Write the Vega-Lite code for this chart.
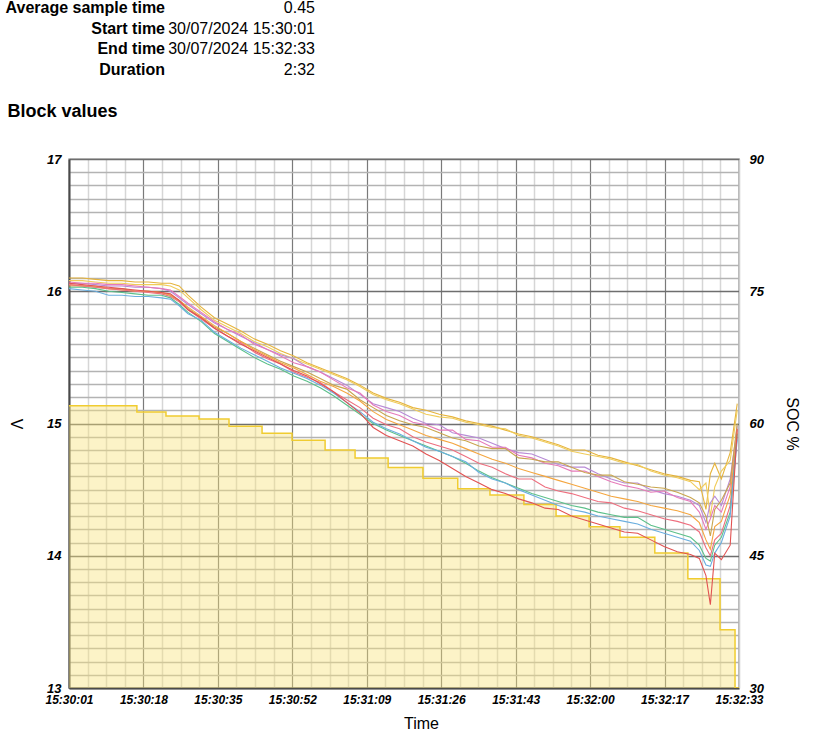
{
  "$schema": "https://vega.github.io/schema/vega-lite/v6.json",
  "padding": {"left": 5, "top": 0, "right": 5, "bottom": 5},
  "background": "white",
  "config": {
    "font": "Liberation Sans",
    "view": {"stroke": "#b0b0b0", "strokeWidth": 1.5}
  },
  "columns": 1,
  "align": "none",
  "spacing": 19,
  "concat": [
    {
      "width": 310,
      "height": 82,
      "view": {"stroke": null},
      "data": {"values": [
        {"r": 0, "k": "Average sample time", "v": "0.45"},
        {"r": 1, "k": "Start time", "v": "30/07/2024 15:30:01"},
        {"r": 2, "k": "End time", "v": "30/07/2024 15:32:33"},
        {"r": 3, "k": "Duration", "v": "2:32"}
      ]},
      "layer": [
        {"mark": {"type": "text", "align": "right", "baseline": "middle", "fontWeight": "bold", "fontSize": 16, "x": 96, "dy": -3, "color": "black"},
         "encoding": {"y": {"field": "r", "type": "ordinal", "axis": null}, "text": {"field": "k"}}},
        {"mark": {"type": "text", "align": "right", "baseline": "middle", "fontSize": 16, "x": 246, "dy": -3, "color": "black"},
         "encoding": {"y": {"field": "r", "type": "ordinal", "axis": null}, "text": {"field": "v"}}}
      ]
    },
    {
      "width": 670,
      "height": 529,
      "title": {"text": "Block values", "anchor": "start", "frame": "bounds", "fontSize": 18, "fontWeight": "bold", "offset": 32, "color": "black"},
      "layer": [
        {
          "data": {"values": [
            {"t": 0, "soc": 62.0}, {"t": 15.4, "soc": 61.3}, {"t": 22.0, "soc": 60.85}, {"t": 29.5, "soc": 60.5},
            {"t": 36.3, "soc": 59.7}, {"t": 43.8, "soc": 58.9}, {"t": 50.6, "soc": 58.1}, {"t": 58.1, "soc": 57.0},
            {"t": 64.9, "soc": 56.1}, {"t": 72.4, "soc": 55.0}, {"t": 80.3, "soc": 53.8}, {"t": 88.2, "soc": 52.6},
            {"t": 95.5, "soc": 51.9}, {"t": 103.2, "soc": 50.8}, {"t": 110.5, "soc": 49.5}, {"t": 118.0, "soc": 48.3},
            {"t": 125.0, "soc": 47.1}, {"t": 132.9, "soc": 45.3}, {"t": 140.4, "soc": 42.4}, {"t": 147.7, "soc": 36.6},
            {"t": 151.1, "soc": 30}, {"t": 152, "soc": 30}
          ]},
          "mark": {"type": "area", "interpolate": "step-after", "fill": "#f9e27a", "fillOpacity": 0.42, "clip": true, "line": {"color": "#f0cc30", "strokeWidth": 1.5}},
          "encoding": {
            "x": {"field": "t", "type": "quantitative", "title": null,
              "scale": {"domain": [0, 152], "nice": false, "zero": false},
              "axis": {
                "orient": "top",
                "values": [4.222, 8.444, 12.666, 21.11, 25.332, 29.554, 37.998, 42.22, 46.442, 54.886, 59.108, 63.33, 71.774, 75.996, 80.218, 88.662, 92.884, 97.106, 105.55, 109.772, 113.994, 122.438, 126.66, 130.882, 139.326, 143.548, 147.77],
                "grid": true, "gridColor": "#d6d6d6", "gridWidth": 1.5,
                "labels": false, "ticks": false, "domain": false, "title": null
              }
            },
            "y": {"field": "soc", "type": "quantitative",
              "scale": {"domain": [30, 90], "nice": false, "zero": false},
              "axis": {
                "orient": "right",
                "values": [30, 31.5, 33, 34.5, 36, 37.5, 39, 40.5, 42, 43.5, 45, 46.5, 48, 49.5, 51, 52.5, 54, 55.5, 57, 58.5, 60, 61.5, 63, 64.5, 66, 67.5, 69, 70.5, 72, 73.5, 75, 76.5, 78, 79.5, 81, 82.5, 84, 85.5, 87, 88.5, 90],
                "labelExpr": "datum.value % 15 == 0 ? datum.label : ''",
                "grid": true,
                "gridColor": {"condition": {"test": "datum.value % 15 == 0", "value": "#6e6e6e"}, "value": "#b3b3b3"},
                "gridWidth": 1.3,
                "ticks": false,
                "domain": true, "domainColor": "#cccccc", "domainWidth": 1,
                "labelFont": "Liberation Sans", "labelFontSize": 13, "labelFontWeight": "bold", "labelFontStyle": "italic", "labelColor": "black",
                "labelPadding": 10, "labelFlush": false, "labelOverlap": false,
                "title": "SOC %", "titleFont": "Liberation Sans", "titleFontSize": 16, "titleFontWeight": "normal", "titleColor": "black",
                "titleAngle": 90, "titlePadding": 20
              }
            },
            "y2": {"datum": 30}
          }
        },
        {
          "data": {"values": [
            {"t": 0, "a": 16.10, "b": 16.08, "c": 16.06, "d": 16.07, "e": 16.04, "f": 16.05, "g": 16.05, "h": 16.03, "i": 16.02, "j": 16.06},
            {"t": 3, "a": 16.10, "b": 16.08, "c": 16.06, "d": 16.06, "e": 16.04, "f": 16.04, "g": 16.04, "h": 16.03, "i": 16.01, "j": 16.05},
            {"t": 6, "a": 16.09, "b": 16.07, "c": 16.05, "d": 16.06, "e": 16.03, "f": 16.04, "g": 16.03, "h": 16.02, "i": 16.00, "j": 16.04},
            {"t": 9, "a": 16.08, "b": 16.06, "c": 16.04, "d": 16.05, "e": 16.02, "f": 16.02, "g": 16.02, "h": 16.00, "i": 15.97, "j": 16.03},
            {"t": 12, "a": 16.08, "b": 16.06, "c": 16.04, "d": 16.05, "e": 16.02, "f": 16.01, "g": 16.01, "h": 15.99, "i": 15.97, "j": 16.02},
            {"t": 15, "a": 16.07, "b": 16.05, "c": 16.03, "d": 16.04, "e": 16.00, "f": 16.00, "g": 16.00, "h": 15.98, "i": 15.96, "j": 16.01},
            {"t": 18, "a": 16.07, "b": 16.05, "c": 16.03, "d": 16.03, "e": 16.00, "f": 16.00, "g": 15.99, "h": 15.97, "i": 15.96, "j": 16.00},
            {"t": 21, "a": 16.06, "b": 16.05, "c": 16.02, "d": 16.02, "e": 15.99, "f": 15.99, "g": 15.98, "h": 15.97, "i": 15.95, "j": 15.99},
            {"t": 23, "a": 16.06, "b": 16.04, "c": 16.00, "d": 16.01, "e": 15.97, "f": 15.97, "g": 15.96, "h": 15.95, "i": 15.94, "j": 15.98},
            {"t": 25, "a": 16.04, "b": 16.01, "c": 15.95, "d": 15.96, "e": 15.93, "f": 15.93, "g": 15.92, "h": 15.90, "i": 15.89, "j": 15.93},
            {"t": 27, "a": 15.97, "b": 15.95, "c": 15.90, "d": 15.91, "e": 15.87, "f": 15.88, "g": 15.86, "h": 15.84, "i": 15.83, "j": 15.86},
            {"t": 30, "a": 15.88, "b": 15.86, "c": 15.83, "d": 15.84, "e": 15.80, "f": 15.81, "g": 15.79, "h": 15.77, "i": 15.78, "j": 15.80},
            {"t": 33, "a": 15.80, "b": 15.78, "c": 15.76, "d": 15.77, "e": 15.73, "f": 15.74, "g": 15.72, "h": 15.68, "i": 15.69, "j": 15.72},
            {"t": 36, "a": 15.75, "b": 15.73, "c": 15.71, "d": 15.71, "e": 15.68, "f": 15.68, "g": 15.66, "h": 15.62, "i": 15.63, "j": 15.66},
            {"t": 39, "a": 15.70, "b": 15.68, "c": 15.66, "d": 15.67, "e": 15.62, "f": 15.62, "g": 15.61, "h": 15.56, "i": 15.57, "j": 15.60},
            {"t": 42, "a": 15.64, "b": 15.62, "c": 15.61, "d": 15.60, "e": 15.57, "f": 15.56, "g": 15.54, "h": 15.50, "i": 15.52, "j": 15.55},
            {"t": 45, "a": 15.60, "b": 15.58, "c": 15.56, "d": 15.56, "e": 15.52, "f": 15.51, "g": 15.49, "h": 15.45, "i": 15.47, "j": 15.50},
            {"t": 48, "a": 15.55, "b": 15.53, "c": 15.52, "d": 15.51, "e": 15.47, "f": 15.46, "g": 15.45, "h": 15.41, "i": 15.42, "j": 15.45},
            {"t": 51, "a": 15.51, "b": 15.49, "c": 15.49, "d": 15.46, "e": 15.43, "f": 15.42, "g": 15.39, "h": 15.36, "i": 15.38, "j": 15.40},
            {"t": 54, "a": 15.46, "b": 15.45, "c": 15.43, "d": 15.43, "e": 15.39, "f": 15.37, "g": 15.35, "h": 15.32, "i": 15.34, "j": 15.36},
            {"t": 57, "a": 15.42, "b": 15.41, "c": 15.39, "d": 15.39, "e": 15.34, "f": 15.32, "g": 15.31, "h": 15.27, "i": 15.29, "j": 15.30},
            {"t": 60, "a": 15.38, "b": 15.37, "c": 15.34, "d": 15.33, "e": 15.29, "f": 15.28, "g": 15.24, "h": 15.21, "i": 15.23, "j": 15.24},
            {"t": 63, "a": 15.34, "b": 15.33, "c": 15.29, "d": 15.27, "e": 15.26, "f": 15.23, "g": 15.18, "h": 15.14, "i": 15.16, "j": 15.16},
            {"t": 66, "a": 15.29, "b": 15.28, "c": 15.22, "d": 15.23, "e": 15.18, "f": 15.17, "g": 15.12, "h": 15.07, "i": 15.09, "j": 15.08},
            {"t": 69, "a": 15.23, "b": 15.22, "c": 15.15, "d": 15.14, "e": 15.12, "f": 15.09, "g": 15.04, "h": 15.00, "i": 15.01, "j": 14.97},
            {"t": 72, "a": 15.19, "b": 15.18, "c": 15.12, "d": 15.09, "e": 15.06, "f": 15.03, "g": 14.99, "h": 14.95, "i": 14.96, "j": 14.91},
            {"t": 75, "a": 15.16, "b": 15.15, "c": 15.09, "d": 15.06, "e": 15.02, "f": 14.99, "g": 14.96, "h": 14.91, "i": 14.92, "j": 14.87},
            {"t": 78, "a": 15.12, "b": 15.11, "c": 15.04, "d": 15.01, "e": 14.99, "f": 14.95, "g": 14.90, "h": 14.87, "i": 14.87, "j": 14.83},
            {"t": 81, "a": 15.10, "b": 15.07, "c": 15.00, "d": 14.99, "e": 14.97, "f": 14.91, "g": 14.86, "h": 14.83, "i": 14.82, "j": 14.77},
            {"t": 84, "a": 15.07, "b": 15.05, "c": 14.99, "d": 14.95, "e": 14.93, "f": 14.88, "g": 14.83, "h": 14.79, "i": 14.79, "j": 14.72},
            {"t": 87, "a": 15.05, "b": 15.04, "c": 14.93, "d": 14.95, "e": 14.89, "f": 14.85, "g": 14.80, "h": 14.75, "i": 14.75, "j": 14.66},
            {"t": 90, "a": 15.02, "b": 15.01, "c": 14.91, "d": 14.88, "e": 14.87, "f": 14.81, "g": 14.75, "h": 14.70, "i": 14.71, "j": 14.60},
            {"t": 93, "a": 15.00, "b": 14.99, "c": 14.89, "d": 14.87, "e": 14.83, "f": 14.77, "g": 14.70, "h": 14.64, "i": 14.63, "j": 14.55},
            {"t": 96, "a": 14.98, "b": 14.97, "c": 14.85, "d": 14.82, "e": 14.81, "f": 14.73, "g": 14.67, "h": 14.59, "i": 14.58, "j": 14.50},
            {"t": 99, "a": 14.95, "b": 14.96, "c": 14.81, "d": 14.82, "e": 14.81, "f": 14.70, "g": 14.62, "h": 14.55, "i": 14.55, "j": 14.47},
            {"t": 102, "a": 14.92, "b": 14.91, "c": 14.78, "d": 14.76, "e": 14.74, "f": 14.66, "g": 14.58, "h": 14.51, "i": 14.50, "j": 14.43},
            {"t": 105, "a": 14.90, "b": 14.89, "c": 14.77, "d": 14.74, "e": 14.73, "f": 14.63, "g": 14.58, "h": 14.47, "i": 14.46, "j": 14.40},
            {"t": 108, "a": 14.87, "b": 14.86, "c": 14.73, "d": 14.70, "e": 14.71, "f": 14.60, "g": 14.52, "h": 14.44, "i": 14.42, "j": 14.36},
            {"t": 111, "a": 14.84, "b": 14.83, "c": 14.69, "d": 14.68, "e": 14.71, "f": 14.57, "g": 14.49, "h": 14.41, "i": 14.38, "j": 14.35},
            {"t": 114, "a": 14.80, "b": 14.79, "c": 14.67, "d": 14.64, "e": 14.67, "f": 14.54, "g": 14.47, "h": 14.38, "i": 14.35, "j": 14.30},
            {"t": 117, "a": 14.80, "b": 14.77, "c": 14.67, "d": 14.64, "e": 14.63, "f": 14.51, "g": 14.44, "h": 14.36, "i": 14.33, "j": 14.27},
            {"t": 120, "a": 14.76, "b": 14.75, "c": 14.62, "d": 14.60, "e": 14.61, "f": 14.48, "g": 14.41, "h": 14.33, "i": 14.30, "j": 14.24},
            {"t": 123, "a": 14.74, "b": 14.73, "c": 14.58, "d": 14.56, "e": 14.61, "f": 14.45, "g": 14.40, "h": 14.31, "i": 14.28, "j": 14.21},
            {"t": 126, "a": 14.71, "b": 14.70, "c": 14.55, "d": 14.53, "e": 14.56, "f": 14.43, "g": 14.36, "h": 14.29, "i": 14.26, "j": 14.18},
            {"t": 129, "a": 14.68, "b": 14.69, "c": 14.55, "d": 14.51, "e": 14.54, "f": 14.41, "g": 14.34, "h": 14.29, "i": 14.24, "j": 14.17},
            {"t": 132, "a": 14.65, "b": 14.64, "c": 14.50, "d": 14.48, "e": 14.52, "f": 14.38, "g": 14.31, "h": 14.23, "i": 14.20, "j": 14.12},
            {"t": 135, "a": 14.62, "b": 14.61, "c": 14.47, "d": 14.49, "e": 14.51, "f": 14.36, "g": 14.28, "h": 14.20, "i": 14.17, "j": 14.07},
            {"t": 138, "a": 14.60, "b": 14.59, "c": 14.45, "d": 14.44, "e": 14.48, "f": 14.34, "g": 14.26, "h": 14.17, "i": 14.14, "j": 14.03},
            {"t": 141, "a": 14.57, "b": 14.56, "c": 14.42, "d": 14.41, "e": 14.44, "f": 14.31, "g": 14.23, "h": 14.14, "i": 14.11, "j": 14.01},
            {"t": 143, "a": 14.56, "b": 14.50, "c": 14.38, "d": 14.33, "e": 14.40, "f": 14.25, "g": 14.18, "h": 14.08, "i": 14.04, "j": 13.98},
            {"t": 144.5, "a": 14.35, "b": 14.55, "c": 14.25, "d": 14.20, "e": 14.30, "f": 14.12, "g": 14.06, "h": 13.98, "i": 13.93, "j": 13.85},
            {"t": 145.5, "a": 14.62, "b": 14.30, "c": 14.40, "d": 14.28, "e": 14.15, "f": 14.05, "g": 14.00, "h": 13.96, "i": 13.92, "j": 13.63},
            {"t": 146.5, "a": 14.70, "b": 14.52, "c": 14.45, "d": 14.38, "e": 14.35, "f": 14.22, "g": 14.12, "h": 14.08, "i": 14.02, "j": 14.02},
            {"t": 148, "a": 14.58, "b": 14.64, "c": 14.38, "d": 14.33, "e": 14.42, "f": 14.26, "g": 14.17, "h": 14.14, "i": 14.10, "j": 13.97},
            {"t": 150, "a": 14.78, "b": 14.72, "c": 14.58, "d": 14.52, "e": 14.55, "f": 14.46, "g": 14.38, "h": 14.33, "i": 14.30, "j": 14.08},
            {"t": 151.6, "a": 15.15, "b": 15.10, "c": 14.98, "d": 14.95, "e": 15.00, "f": 14.93, "g": 14.90, "h": 14.92, "i": 14.88, "j": 14.96}
          ]},
          "transform": [{"fold": ["a", "b", "c", "d", "e", "f", "g", "h", "i", "j"], "as": ["cell", "v"]}],
          "mark": {"type": "line", "strokeWidth": 1.1, "interpolate": "linear", "clip": true},
          "encoding": {
            "x": {"field": "t", "type": "quantitative", "title": "Time",
              "scale": {"domain": [0, 152], "nice": false, "zero": false},
              "axis": {
                "orient": "bottom",
                "values": [0, 16.888, 33.776, 50.664, 67.552, 84.44, 101.328, 118.216, 135.104, 152],
                "labelExpr": "timeFormat(datetime(2024, 6, 30, 15, 30, 1 + ceil(datum.value)), '%H:%M:%S')",
                "grid": true, "gridColor": "#7a7a7a", "gridWidth": 1.2,
                "ticks": false,
                "domain": true, "domainColor": "#4a4a4a", "domainWidth": 2,
                "labelFont": "Liberation Sans", "labelFontSize": 12, "labelFontWeight": "bold", "labelFontStyle": "italic", "labelColor": "black",
                "labelPadding": 6, "labelFlush": false, "labelOverlap": false,
                "title": "Time", "titleFont": "Liberation Sans", "titleFontSize": 16, "titleFontWeight": "normal", "titleColor": "black",
                "titlePadding": 10, "titleX": 352
              }
            },
            "y": {"field": "v", "type": "quantitative",
              "scale": {"domain": [13, 17], "nice": false, "zero": false},
              "axis": {
                "orient": "left",
                "values": [13, 14, 15, 16, 17],
                "grid": false, "ticks": false,
                "domain": true, "domainColor": "#4a4a4a", "domainWidth": 2,
                "labelFont": "Liberation Sans", "labelFontSize": 13, "labelFontWeight": "bold", "labelFontStyle": "italic", "labelColor": "black",
                "labelPadding": 8, "labelFlush": false, "labelOverlap": false,
                "title": "V", "titleFont": "Liberation Sans", "titleFontSize": 16, "titleFontWeight": "normal", "titleColor": "black",
                "titleAngle": 90, "titlePadding": 39
              }
            },
            "color": {"field": "cell", "type": "nominal", "legend": null,
              "scale": {"domain": ["a", "b", "c", "d", "e", "f", "g", "h", "i", "j"],
                "range": ["#e6b43c", "#f0cc5a", "#b88ad6", "#e67ab9", "#c9a54e", "#f4a640", "#ee6e7e", "#5cc08a", "#6aaedf", "#e25252"]}},
            "detail": {"field": "cell"}
          }
        }
      ],
      "resolve": {"scale": {"y": "independent"}, "axis": {"x": "independent"}}
    }
  ]
}
